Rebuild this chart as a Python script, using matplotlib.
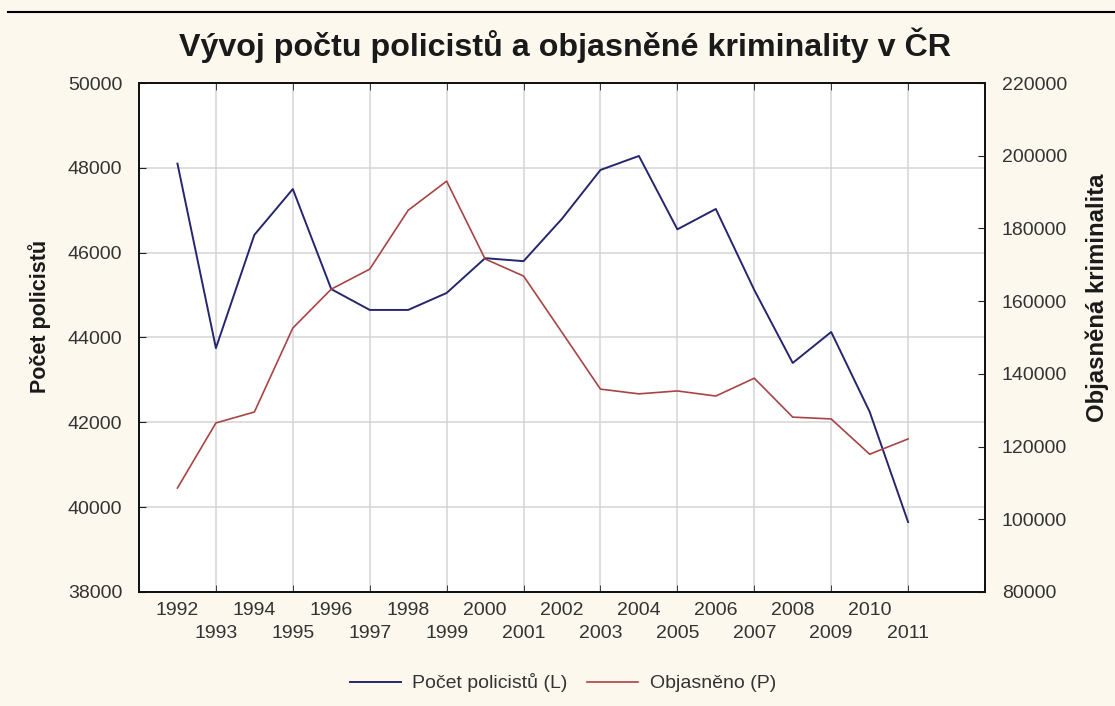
import numpy as np
import matplotlib.pyplot as plt
from matplotlib.lines import Line2D

plt.rcParams['font.family'] = ['Liberation Sans', 'DejaVu Sans']

# data
years = list(range(1992, 2012))
policiste = [48100, 43750, 46420, 47500, 45140, 44650, 44650, 45050, 45870, 45800,
             46800, 47950, 48280, 46550, 47030, 45120, 43400, 44130, 42250, 39650]
objasneno = [108600, 126500, 129500, 152600, 163300, 168800, 185000, 193000, 171600, 166900,
             151400, 135800, 134500, 135300, 133900, 138800, 128100, 127600, 117900, 122100]

left_ticks = [38000, 40000, 42000, 44000, 46000, 48000, 50000]
right_ticks = [80000, 100000, 120000, 140000, 160000, 180000, 200000, 220000]

blue = '#26266e'
red = '#a84444'
bg = '#fcf8ee'

fig = plt.figure(figsize=(11.15, 7.06), dpi=100, facecolor=bg)
ax = fig.add_axes([139/1115, 1-592/706, (985-139)/1115, (592-83)/706])
ax.set_facecolor('white')
ax2 = ax.twinx()

ax.plot(years, policiste, color=blue, lw=1.4, zorder=3)
ax2.plot(years, objasneno, color=red, lw=1.2, zorder=3)

ax.set_xlim(1991, 2013)
ax.set_ylim(38000, 50000)
ax2.set_ylim(80000, 220000)

# even years: upper row of labels, no tick marks
even = [y for y in years if y % 2 == 0]
odd = [y for y in years if y % 2 == 1]
ax.set_xticks(even)
ax.set_xticklabels([str(y) for y in even], fontsize=14, color='#333333')
ax.tick_params(axis='x', which='major', length=0, pad=7)
# odd years: lower row, with ticks and vertical grid
ax.set_xticks(odd, minor=True)
ax.set_xticklabels([str(y) for y in odd], minor=True, fontsize=14, color='#333333')
ax.tick_params(axis='x', which='minor', direction='in', length=5, top=True,
               color='#222222', pad=24)
ax.grid(which='minor', axis='x', color='#d4d4d4', lw=1.1)

ax.set_yticks(left_ticks)
ax.set_yticklabels([str(v) for v in left_ticks], fontsize=14, color='#333333')
ax.tick_params(axis='y', direction='in', length=5, pad=12, color='#222222')
ax.grid(which='major', axis='y', color='#d4d4d4', lw=1.1)

ax2.set_yticks(right_ticks)
ax2.set_yticklabels([str(v) for v in right_ticks], fontsize=14, color='#333333')
ax2.tick_params(axis='y', direction='in', length=5, pad=12, color='#222222')

for a in (ax, ax2):
    for s in a.spines.values():
        s.set_color('#111111')
        s.set_linewidth(1.3)
ax.set_axisbelow(True)

fig.text(0.507, 1-45/706, 'Vývoj počtu policistů a objasněné kriminality v ČR',
         ha='center', va='center', fontsize=23.2, fontweight='bold', color='#1a1a1a')
fig.text(40/1115, 1-316/706, 'Počet policistů', rotation=90, ha='center', va='center',
         fontsize=15.5, fontweight='bold', color='#1a1a1a')
fig.text(1097/1115, 1-298/706, 'Objasněná kriminalita', rotation=90, ha='center', va='center',
         fontsize=17.2, fontweight='bold', color='#1a1a1a')

handles = [Line2D([], [], color=blue, lw=1.4), Line2D([], [], color=red, lw=1.2)]
fig.legend(handles, ['Počet policistů (L)', 'Objasněno (P)'], loc='center',
           bbox_to_anchor=(563/1115, 1-683/706), ncol=2, frameon=False, fontsize=14,
           handlelength=2.6, columnspacing=1.0, handletextpad=0.6, labelcolor='#333333')

fig.add_artist(Line2D([8/1115, 1], [1-12/706, 1-12/706], color='black', lw=1.5))

fig.savefig('out.png', dpi=100, facecolor=bg)
